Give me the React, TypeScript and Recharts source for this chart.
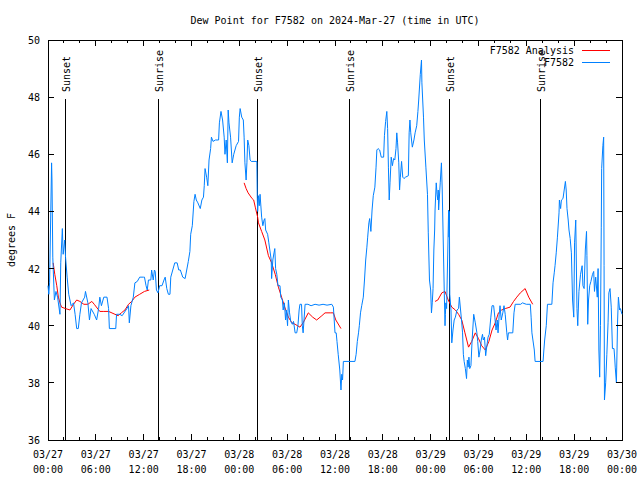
import React from 'react';
import { LineChart, Line, XAxis, YAxis, ReferenceLine } from 'recharts';

// observed dew point (deg F) as [hour since 03/27 00:00 UTC, value]
const obsDay1: [number, number][] = [
  [0, 41.4], [0.1, 41.1], [0.2, 41.5], [0.45, 45.7], [0.5, 45.1], [0.6, 42.4], [0.8, 40.9], [1.0, 41.2],
  [1.2, 41.0], [1.5, 40.4], [1.6, 42.2], [1.8, 43.4], [1.9, 42.5], [2.1, 43.0], [2.2, 42.4], [2.4, 41.7],
  [2.6, 41.1], [2.9, 40.7], [3.2, 40.8], [3.4, 40.4], [3.6, 39.9], [3.8, 39.9], [4.0, 40.4], [4.2, 40.8],
  [4.6, 41.0], [4.7, 41.2], [5.0, 40.8], [5.2, 40.2], [5.4, 40.6], [5.8, 40.4], [6.1, 40.2], [6.35, 40.6],
  [6.5, 41.0], [6.7, 40.7], [7.0, 41.0], [7.4, 41.0], [7.6, 40.6], [7.7, 39.9], [8.5, 39.9], [8.6, 40.4],
  [9.0, 40.4], [9.3, 40.35], [9.9, 40.6], [10.1, 40.7], [10.2, 40.1], [10.4, 40.7], [10.7, 41.0], [10.9, 41.5],
  [11.2, 41.55], [11.5, 41.7], [12.0, 41.7], [12.1, 41.7], [12.3, 41.4], [12.45, 41.25], [12.6, 41.6], [12.9, 41.6],
  [13.0, 41.95], [13.2, 41.6], [13.35, 41.95], [13.45, 41.9], [13.6, 41.25], [13.8, 41.15], [14.0, 41.4], [14.3, 41.4],
  [14.55, 41.6], [14.7, 41.7], [14.9, 41.3], [15.1, 41.1], [15.3, 41.1], [15.4, 41.7], [15.65, 41.95], [15.9, 42.2],
  [16.2, 42.2], [16.4, 41.95], [16.6, 41.95], [16.9, 41.7], [17.2, 41.65], [17.4, 41.95], [17.6, 42.25], [17.8, 42.6],
  [17.9, 43.2], [18.1, 43.5], [18.3, 44.35], [18.45, 44.6], [18.6, 44.4], [18.8, 44.3], [19.1, 44.1], [19.3, 44.4],
  [19.5, 44.5], [19.6, 44.9], [19.7, 45.5], [19.9, 45.2], [20.05, 44.9], [20.2, 45.8], [20.4, 46.2], [20.5, 46.6],
  [20.7, 46.45], [21.0, 46.5], [21.4, 46.5], [21.5, 47.1], [21.7, 47.5], [21.9, 47.2], [22.1, 46.6], [22.2, 46.0],
  [22.35, 46.5], [22.5, 45.7], [22.6, 47.55], [22.7, 47.1], [22.9, 46.6], [23.1, 45.7], [23.3, 46.0], [23.6, 46.3],
  [23.9, 46.45], [24.0, 47.3],
];

const obsDay2: [number, number][] = [
  [24.1, 47.6], [24.3, 47.3], [24.5, 47.2], [24.6, 46.6], [24.7, 45.7], [24.85, 45.1], [24.95, 45.7], [25.05, 46.5],
  [25.2, 46.3], [25.35, 45.8], [25.5, 45.75], [26.2, 45.75], [26.25, 44.5], [26.3, 44.0], [26.4, 44.55], [26.5, 44.2],
  [26.6, 44.6], [26.8, 43.8], [26.95, 43.5], [27.1, 43.7], [27.2, 43.75], [27.3, 43.35], [27.55, 43.2], [27.7, 42.9],
  [28.0, 42.3], [28.05, 41.65], [28.2, 42.3], [28.35, 42.55], [28.45, 42.7], [28.55, 42.0], [28.7, 41.8], [28.85, 41.4],
  [29.1, 41.4], [29.2, 41.0], [29.4, 40.9], [29.5, 40.55], [29.65, 40.8], [29.8, 40.2], [29.9, 40.55], [30.05, 40.0],
  [30.15, 40.9], [30.3, 40.45], [30.45, 40.15], [30.65, 40.05], [30.8, 40.15], [31.0, 39.75], [31.2, 39.75], [31.35, 40.0],
  [31.5, 40.55], [31.6, 40.75], [31.8, 40.75], [31.9, 40.0], [32.0, 39.75], [32.25, 40.75], [32.6, 40.75], [33.0, 40.7],
  [33.5, 40.75], [34.0, 40.72], [34.5, 40.75], [35.0, 40.72], [35.6, 40.75], [35.8, 40.65], [36.0, 39.75], [36.15, 39.75],
  [36.25, 39.45], [36.4, 39.0], [36.6, 38.45], [36.75, 37.75], [36.85, 38.3], [36.95, 38.1], [37.05, 38.75], [38.5, 38.75],
  [38.65, 39.0], [38.8, 39.45], [38.95, 39.75], [39.05, 40.0], [39.2, 40.45], [39.35, 40.7], [39.55, 41.0], [39.7, 41.6],
  [39.85, 42.3], [40.0, 42.75], [40.1, 43.1], [40.25, 43.6], [40.35, 43.75], [40.5, 43.3], [40.65, 44.05], [40.8, 44.55],
  [41.0, 44.85], [41.15, 45.55], [41.25, 46.15], [41.4, 46.2], [41.6, 46.15], [41.8, 45.9], [42.1, 45.9], [42.2, 46.65],
  [42.35, 47.15], [42.5, 47.5], [42.6, 46.9], [42.7, 45.55], [42.8, 44.4], [42.9, 45.0], [43.05, 45.9], [43.2, 45.6],
  [43.35, 45.85], [43.5, 45.8], [43.65, 46.2], [43.75, 46.75], [43.85, 46.4], [44.0, 45.7], [44.1, 44.75], [44.2, 45.2],
  [44.35, 45.75], [44.5, 45.2], [44.65, 45.15], [44.85, 45.2], [45.2, 45.25], [45.3, 46.75], [45.4, 47.2], [45.5, 46.75],
  [45.7, 46.25], [45.9, 46.5], [46.05, 46.75], [46.25, 47.0], [46.4, 47.5], [46.5, 47.9], [46.7, 48.8], [46.85, 49.3],
  [46.9, 48.5], [47.1, 47.3], [47.2, 46.5], [47.4, 45.55], [47.6, 44.6], [47.7, 43.25], [47.85, 41.6], [48.0, 41.25],
];

const obsDay3: [number, number][] = [
  [48.1, 40.45], [48.2, 40.8], [48.3, 41.3], [48.4, 42.65], [48.5, 43.35], [48.55, 44.05], [48.7, 45.0], [48.8, 44.6],
  [48.9, 44.4], [48.95, 44.75], [49.0, 44.05], [49.2, 45.0], [49.35, 45.7], [49.45, 44.75], [49.55, 43.35], [49.7, 41.25],
  [49.8, 40.0], [49.85, 40.4], [49.9, 40.8], [50.0, 40.6], [50.2, 43.35], [50.25, 44.05], [50.3, 43.1], [50.35, 44.0],
  [50.4, 41.1], [50.55, 40.55], [50.65, 39.4], [50.8, 39.85], [50.95, 40.2], [51.1, 40.3], [51.3, 40.55], [51.5, 40.6],
  [51.6, 41.0], [51.75, 40.55], [51.9, 40.1], [52.0, 39.75], [52.1, 39.0], [52.2, 38.75], [52.35, 38.5], [52.5, 38.15],
  [52.6, 38.8], [52.7, 38.55], [52.8, 38.9], [52.9, 38.5], [53.05, 38.6], [53.2, 39.5], [53.4, 40.4], [53.6, 40.1],
  [53.8, 39.75], [53.9, 39.45], [54.05, 38.9], [54.2, 39.15], [54.35, 39.5], [54.5, 39.7], [54.6, 39.5], [54.75, 39.6],
  [54.9, 38.95], [55.05, 39.3], [55.2, 39.6], [55.35, 39.7], [55.55, 40.3], [55.7, 40.7], [55.9, 40.7], [56.05, 40.3],
  [56.2, 39.85], [56.35, 40.2], [56.45, 39.75], [56.6, 40.4], [56.7, 40.7], [56.85, 40.2], [57.05, 40.45], [57.2, 40.7],
  [57.35, 40.4], [57.55, 39.75], [57.65, 39.5], [57.75, 39.75], [58.3, 39.75], [58.45, 40.45], [58.6, 40.75], [59.3, 40.75],
  [59.5, 40.8], [60.0, 40.75], [60.5, 40.75], [60.6, 40.3], [60.7, 39.75], [61.0, 39.15], [61.1, 38.75], [62.1, 38.75],
  [62.2, 39.15], [62.3, 39.5], [62.5, 40.0], [62.65, 40.75], [63.2, 40.75], [63.35, 41.5], [63.5, 41.85], [63.6, 42.1],
  [63.75, 42.55], [63.9, 43.1], [64.1, 43.95], [64.15, 44.4], [64.3, 44.1], [64.4, 44.4], [64.6, 44.45], [64.75, 44.75],
  [64.9, 45.05], [65.0, 44.75], [65.1, 44.1], [65.25, 43.7], [65.35, 43.35], [65.5, 43.05], [65.65, 42.55], [65.8, 40.9],
  [65.95, 40.3], [66.05, 42.9], [66.2, 43.7], [66.35, 40.6], [66.45, 40.0], [66.6, 41.2], [66.8, 41.8], [67.0, 42.1],
  [67.1, 41.4], [67.25, 41.3], [67.4, 42.65], [67.55, 43.3], [67.6, 42.45], [67.7, 40.05], [67.8, 40.9], [67.95, 41.4],
  [68.1, 41.55], [68.3, 41.8], [68.45, 41.9], [68.55, 41.2], [68.7, 41.7], [68.9, 41.0], [69.0, 42.0], [69.1, 39.15],
  [69.2, 38.2], [69.3, 40.0], [69.4, 43.45], [69.45, 45.5], [69.6, 46.3], [69.7, 46.6], [69.75, 42.1], [69.8, 37.4],
  [69.95, 38.0], [70.1, 39.0], [70.25, 40.1], [70.35, 41.15], [70.5, 41.3], [70.65, 40.65], [70.8, 39.2], [71.0, 39.2],
  [71.1, 38.8], [71.15, 38.55], [71.3, 38.0], [71.45, 40.2], [71.55, 41.0], [71.7, 40.55], [71.8, 40.6], [72.0, 40.4],
];

// analysis runs
const analysisRun1: [number, number][] = [
  [0.65, 42.2], [0.85, 41.8], [1.1, 41.4], [1.3, 41.0], [1.5, 40.8], [1.7, 40.65], [2.2, 40.6], [2.75, 40.55],
  [3.2, 40.75], [3.6, 40.9], [4.0, 40.85], [4.5, 40.75], [5.0, 40.75], [5.5, 40.85], [5.8, 40.75], [6.5, 40.5],
  [7.0, 40.5], [7.6, 40.5], [8.4, 40.4], [8.8, 40.35], [9.2, 40.45], [9.65, 40.55], [10.1, 40.75], [10.5, 40.85],
  [10.9, 41.0], [11.5, 41.1], [12.1, 41.2], [12.7, 41.25],
];

const analysisRun2: [number, number][] = [
  [24.6, 45.0], [24.85, 44.8], [25.1, 44.65], [25.6, 44.45], [25.8, 44.4], [26.0, 44.15], [26.3, 43.8], [26.4, 43.6],
  [26.8, 43.3], [27.2, 43.0], [27.65, 42.45], [28.05, 42.2], [28.5, 41.8], [28.9, 41.35], [29.3, 41.0], [29.7, 40.65],
  [30.15, 40.3], [30.6, 40.1], [31.0, 40.05], [31.6, 39.95], [32.0, 40.1], [32.65, 40.45], [33.2, 40.3], [33.7, 40.2],
  [34.35, 40.35], [34.75, 40.45], [35.4, 40.45], [35.8, 40.45], [36.1, 40.2], [36.75, 39.9],
];

const analysisRun3: [number, number][] = [
  [48.55, 40.85], [48.9, 40.9], [49.4, 41.15], [49.8, 41.2], [50.2, 40.9], [50.65, 40.65], [51.1, 40.55], [51.5, 40.4],
  [51.9, 40.2], [52.3, 39.75], [52.75, 39.25], [53.15, 39.45], [53.6, 39.75], [54.0, 39.55], [54.4, 39.3], [54.85, 39.15],
  [55.3, 39.45], [55.7, 39.85], [56.1, 40.1], [56.5, 40.45], [56.9, 40.55], [57.35, 40.6], [57.95, 40.65], [58.4, 40.85],
  [58.8, 41.0], [59.25, 41.15], [59.85, 41.3], [60.3, 41.0], [60.8, 40.75],
];

const sunHours = [2.17, 13.84, 26.27, 37.77, 50.35, 61.77];
const sunLabels = ['Sunset', 'Sunrise', 'Sunset', 'Sunrise', 'Sunset', 'Sunrise'];

const tickDates = ['03/27', '03/27', '03/27', '03/27', '03/28', '03/28', '03/28', '03/28', '03/29', '03/29', '03/29', '03/29', '03/30'];
const tickTimes = ['00:00', '06:00', '12:00', '18:00', '00:00', '06:00', '12:00', '18:00', '00:00', '06:00', '12:00', '18:00', '00:00'];
const hourTicks = Array.from({ length: 37 }, (_, i) => i * 2);
const dewTicks = [36, 38, 40, 42, 44, 46, 48, 50];

const PLOT_LEFT = 48;
const PLOT_RIGHT = 622;
const PLOT_TOP = 40;
const PLOT_BOTTOM = 440;
const FONT = '"DejaVu Sans Mono", monospace';
const BLUE = '#0080ff';
const RED = '#ff0000';

const toPoints = (rows: [number, number][]) => rows.map(([h, v]) => ({ h, v }));

const HourTick = (props: any) => {
  const { x, payload } = props;
  const h = payload.value as number;
  const major = h % 6 === 0;
  const len = major ? 6 : 3;
  const idx = h / 6;
  return (
    <g>
      <line x1={x} x2={x} y1={PLOT_BOTTOM} y2={PLOT_BOTTOM - len} stroke="#000" shapeRendering="crispEdges" />
      <line x1={x} x2={x} y1={PLOT_TOP} y2={PLOT_TOP + len} stroke="#000" shapeRendering="crispEdges" />
      {major && (
        <text textAnchor="middle" fontFamily={FONT} fontSize={10} fill="#000">
          <tspan x={x} y={458}>{tickDates[idx]}</tspan>
          <tspan x={x} y={473}>{tickTimes[idx]}</tspan>
        </text>
      )}
    </g>
  );
};

const DewTick = (props: any) => {
  const { y, payload } = props;
  return (
    <g>
      <line x1={PLOT_LEFT} x2={PLOT_LEFT + 6} y1={y} y2={y} stroke="#000" shapeRendering="crispEdges" />
      <line x1={PLOT_RIGHT} x2={PLOT_RIGHT - 6} y1={y} y2={y} stroke="#000" shapeRendering="crispEdges" />
      <text x={40} y={y + 4} textAnchor="end" fontFamily={FONT} fontSize={10} fill="#000">
        {payload.value}
      </text>
    </g>
  );
};

const sunShape = (label: string) => (props: any) => {
  const { x1, y1, y2 } = props;
  const bottom = Math.max(y1, y2);
  const top = PLOT_TOP + 59;
  return (
    <g>
      <line x1={x1} x2={x1} y1={top} y2={bottom} stroke="#000" shapeRendering="crispEdges" />
      <text
        transform={`translate(${x1 + 5},${top - 7}) rotate(-90)`}
        fontFamily={FONT}
        fontSize={10}
        fill="#000"
      >
        {label}
      </text>
    </g>
  );
};

const App: React.FC = () => {
  const observed = toPoints([...obsDay1, ...obsDay2, ...obsDay3]);

  return (
    <div style={{ position: 'absolute', left: 0, top: 0, width: 640, height: 480, background: '#fff' }}>
      <LineChart width={640} height={480} margin={{ top: 40, right: 18, left: 8, bottom: 0 }}>
        <XAxis
          type="number"
          dataKey="h"
          domain={[0, 72]}
          ticks={hourTicks}
          interval={0}
          tickLine={false}
          axisLine={false}
          height={40}
          tick={<HourTick />}
        />
        <YAxis
          type="number"
          domain={[36, 50]}
          ticks={dewTicks}
          interval={0}
          tickLine={false}
          axisLine={false}
          width={40}
          tick={<DewTick />}
        />
        {sunHours.map((h, i) => (
          <ReferenceLine key={i} x={h} shape={sunShape(sunLabels[i])} />
        ))}
        {[analysisRun1, analysisRun2, analysisRun3].map((run, i) => (
          <Line
            key={`a${i}`}
            data={toPoints(run)}
            dataKey="v"
            type="linear"
            stroke={RED}
            strokeWidth={1}
            dot={false}
            isAnimationActive={false}
          />
        ))}
        <Line data={observed} dataKey="v" type="linear" stroke={BLUE} strokeWidth={1} dot={false} isAnimationActive={false} />
        <rect
          x={PLOT_LEFT}
          y={PLOT_TOP}
          width={PLOT_RIGHT - PLOT_LEFT}
          height={PLOT_BOTTOM - PLOT_TOP}
          fill="none"
          stroke="#000"
          shapeRendering="crispEdges"
        />
        <text x={335} y={24} textAnchor="middle" fontFamily={FONT} fontSize={10} fill="#000">
          Dew Point for F7582 on 2024-Mar-27 (time in UTC)
        </text>
        <text transform="translate(15,240) rotate(-90)" textAnchor="middle" fontFamily={FONT} fontSize={10} fill="#000">
          degrees F
        </text>
        <text x={574} y={54} textAnchor="end" fontFamily={FONT} fontSize={10} fill="#000">
          F7582 Analysis
        </text>
        <line x1={582} x2={610} y1={50} y2={50} stroke={RED} shapeRendering="crispEdges" />
        <text x={574} y={66} textAnchor="end" fontFamily={FONT} fontSize={10} fill="#000">
          F7582
        </text>
        <line x1={582} x2={610} y1={62} y2={62} stroke={BLUE} shapeRendering="crispEdges" />
      </LineChart>
    </div>
  );
};

export default App;
